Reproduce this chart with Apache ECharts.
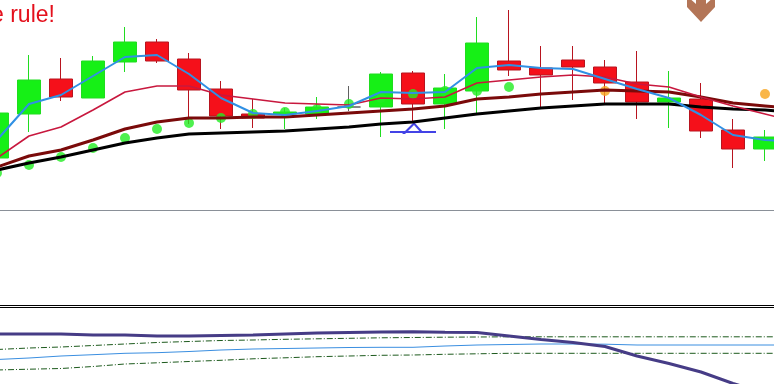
<!DOCTYPE html>
<html><head><meta charset="utf-8">
<script src="https://cdn.jsdelivr.net/npm/echarts@6/dist/echarts.min.js"></script>
<style>html,body{margin:0;padding:0;background:#fff}#c{width:774px;height:384px}</style>
</head><body><div id="c"></div>
<script>
const categories = ['1','2','3','4','5','6','7','8','9','10','11','12','13','14','15','16','17','18','19','20','21','22','23','24','25','26'];
// [open, close, low, high]
const candles = [
 [52,97,45,102],[96,130,78,155],[131,113,109,152],[112,149,112,154],[148,168,138,183],
 [168,149,147,171],[151,120,86,157],[121,94,81,129],[96,92,82,111],[96,98,81,102],
 [96,103,91,113],[103,103,99,124],[103,136,73,138],[137,106,89,139],[106,122,81,136],
 [119,167,97,193],[149,140,134,200],[142,135,103,164],[150,143,110,164],[143,127,107,150],
 [128,108,91,159],[108,112,82,139],[111,79,72,127],[80,61,42,91],[61,73,49,80]
];
const fastMA = [70,106,115,134,153,155,136,112,97,95,99,104,118,117,118,142,145,142,141,131,121,112,95,75,70,68];
const midMA  = [52,74,83,100,118,124,124,115,111,107,106,105,112,111,113,127,130,133,135,133,126,123,113,104,96,88];
const slowMA = [43,54,60,70,81,88,92,92,93,93,95,97,99,101,104,111,113,116,118,120,119,118,113,107,104,101];
const longMA = [40,47,53,60,67,72,76,77,78,79,81,83,86,88,92,96,99,102,104,106,106,106,103,101,100,97];
const greenDots = [37,45,53,62,72,81,87,92,96,98,101,106,112,116,119,119,123,'-','-','-','-','-','-','-','-','-'];
const orangeDots = ['-','-','-','-','-','-','-','-','-','-','-','-','-','-','-','-','-','-','-',119,'-','-','-','-',116,'-'];
const buySignal = ['-','-','-','-','-','-','-','-','-','-','-','-','-',82,'-','-','-','-','-','-','-','-','-','-','-','-'];
const sellSignal = ['-','-','-','-','-','-','-','-','-','-','-','-','-','-','-','-','-','-','-','-','-','-',204,'-','-','-'];
const oscMain = [50,50,50,49,49,48,48,48.5,49,50,51,51.5,52,52.3,51.7,51.5,48,44.5,41.5,37.5,28,20.5,12,0.5,-9,-18];
const oscSignal = [24.5,26,28,29.3,30.7,31.3,32.5,34,35,35.5,36,36.5,36.7,36.7,38,39,39.5,40,40,39.8,39,39,39,39,39,39];
const oscUpper = [34.5,36,37,38.5,40,41.5,42.5,43.5,44,44.7,45.2,45.7,46.2,46.5,46.8,47,47.2,47.2,47.2,47.2,47.2,47.2,47.2,47.2,47.2,47.2];
const oscLower = [14,14.8,15.5,17.5,20,21.2,22.5,23.7,25.2,26.2,27.3,28,28.7,29,29.7,30.2,30.7,30.7,30.7,30.7,30.7,30.7,30.7,30.7,30.7,30.7];
const titleText = 'e rule!';

const chart = echarts.init(document.getElementById('c'), null, {renderer:'canvas'});
const line = (name, data, color, width, xi, extra) => Object.assign({
  name, type:'line', data, xAxisIndex:xi, yAxisIndex:xi, symbol:'none', smooth:false,
  lineStyle:{color, width}, silent:true, animation:false
}, extra || {});
chart.setOption({
  animation:false,
  backgroundColor:'#ffffff',
  title:{text:titleText, left:-9, top:4, padding:0,
    textStyle:{color:'#e4101c', fontSize:23, fontWeight:'normal', fontFamily:'Liberation Sans'}},
  grid:[
    {left:-19, top:0, width:832, height:210, containLabel:false, outerBoundsMode:'none'},
    {left:-19, top:308, width:832, height:76, containLabel:false, outerBoundsMode:'none'}
  ],
  xAxis:[
    {type:'category', gridIndex:0, data:categories, boundaryGap:true,
     axisLine:{show:true, lineStyle:{color:'#8a9098', width:1}}, axisTick:{show:false}, axisLabel:{show:false}, splitLine:{show:false}},
    {type:'category', gridIndex:1, data:categories, boundaryGap:true,
     axisLine:{show:false}, axisTick:{show:false}, axisLabel:{show:false}, splitLine:{show:false}}
  ],
  yAxis:[
    {type:'value', gridIndex:0, min:0, max:210, show:false, splitLine:{show:false}},
    {type:'value', gridIndex:1, min:0, max:76, show:false, splitLine:{show:false}}
  ],
  graphic:[
    {type:'line', shape:{x1:0, y1:305.5, x2:774, y2:305.5}, style:{stroke:'#000', lineWidth:1}},
    {type:'line', shape:{x1:0, y1:307.5, x2:774, y2:307.5}, style:{stroke:'#000', lineWidth:1}}
  ],
  series:[
    {type:'candlestick', data:candles, xAxisIndex:0, yAxisIndex:0, barWidth:24,
     itemStyle:{color:'#16f016', color0:'#f5101a', borderColor:'#20dc20', borderColor0:'#b8141f', borderColorDoji:'#606060', borderWidth:1}},
    line('long', longMA, '#000000', 3, 0),
    line('slow', slowMA, '#7a0a0a', 3, 0),
    line('mid', midMA, '#c8183e', 1.6, 0),
    line('fast', fastMA, '#3090e4', 2, 0),
    {type:'scatter', data:greenDots, xAxisIndex:0, yAxisIndex:0, symbol:'circle', symbolSize:10, itemStyle:{color:'#22ec22'}},
    {type:'scatter', data:orangeDots, xAxisIndex:0, yAxisIndex:0, symbol:'circle', symbolSize:10, itemStyle:{color:'#f7a41c'}},
    {type:'scatter', data:buySignal, xAxisIndex:0, yAxisIndex:0,
     symbol:'path://M0,9 L46,9 L46,11 L0,11 Z M12,12 L24,0 L34,11 L31,11 L24,3 L15,12 Z', symbolSize:[46,12], itemStyle:{color:'#1414e0'}},
    {type:'scatter', data:sellSignal, xAxisIndex:0, yAxisIndex:0,
     symbol:'path://M9,0 L19,0 L19,14 L28,6 L28,17 L14,32 L0,17 L0,6 L9,14 Z', symbolSize:[28,32], itemStyle:{color:'#a0522d'}},
    line('upper', oscUpper, '#1d5a1d', 1, 1, {lineStyle:{color:'#1d5a1d', width:1, type:[6,2,1,2]}}),
    line('lower', oscLower, '#1d5a1d', 1, 1, {lineStyle:{color:'#1d5a1d', width:1, type:[6,2,1,2]}}),
    line('signal', oscSignal, '#3a8ee0', 1, 1),
    line('main', oscMain, '#463c86', 3, 1)
  ]
});
</script>
</body></html>
